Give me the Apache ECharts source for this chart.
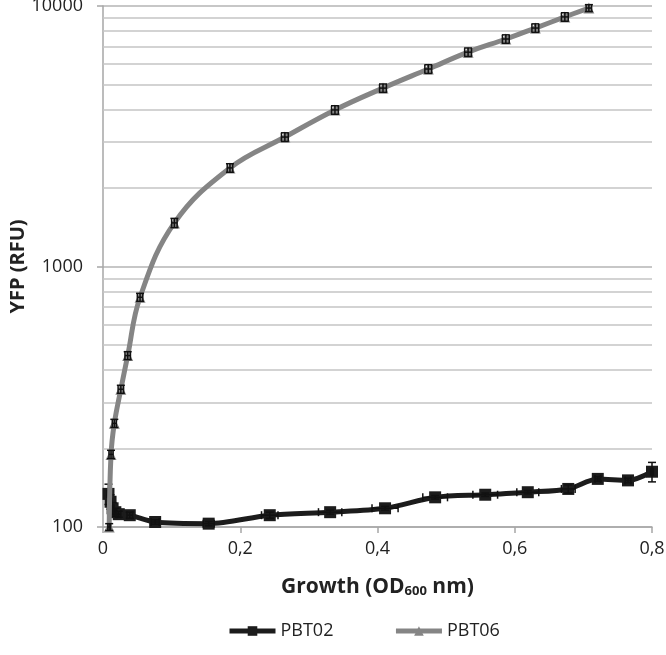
<!DOCTYPE html>
<html><head><meta charset="utf-8">
<script src="https://cdn.jsdelivr.net/npm/echarts@6/dist/echarts.min.js"></script>
<style>html,body{margin:0;padding:0;background:#fff}#c{width:666px;height:655px}</style>
</head><body><div id="c"></div>
<script>
// PBT02 (black, squares)
const pbt02X    = [0.008, 0.011, 0.014, 0.018, 0.023, 0.039, 0.076, 0.154, 0.243, 0.331, 0.411, 0.484, 0.557, 0.619, 0.678, 0.721, 0.765, 0.800];
const pbt02Y    = [134, 125, 118, 114, 112, 111, 104.5, 103, 111, 114, 118, 130, 133, 136, 140, 153, 151, 163];
const pbt02YErr = [12, 8, 6, 4, 3, 3, 2, 2, 3, 2, 2, 2, 2, 2, 5, 3, 3, 14];
const pbt02XErr = [0.002, 0.002, 0.002, 0.002, 0.003, 0.004, 0.006, 0.008, 0.012, 0.017, 0.019, 0.018, 0.018, 0.016, 0.010, 0.004, 0.004, 0.002];
// PBT06 (grey, triangles)
const pbt06X    = [0.009, 0.0117, 0.0165, 0.026, 0.036, 0.054, 0.104, 0.185, 0.265, 0.338, 0.408, 0.474, 0.532, 0.587, 0.630, 0.673, 0.708];
const pbt06Y    = [100, 190, 250, 338, 455, 762, 1470, 2390, 3140, 3990, 4840, 5730, 6650, 7470, 8230, 9080, 9820];
const pbt06YErr = [3, 7, 9, 12, 16, 27, 60, 90, 120, 150, 180, 220, 250, 280, 310, 340, 300];
const pbt06XErr = [0.002, 0.003, 0.003, 0.004, 0.004, 0.004, 0.004, 0.004, 0.005, 0.005, 0.005, 0.005, 0.005, 0.005, 0.005, 0.005, 0.004];
// axis ticks / minor grid values
const xTickLabels = ['0', '0,2', '0,4', '0,6', '0,8'];
const minorGrid = [200, 300, 400, 500, 600, 700, 800, 900, 2000, 3000, 4000, 5000, 6000, 7000, 8000, 9000];

const FONT = 'Open Sans';
function pairs(xs, ys) { return xs.map((x, i) => [x, ys[i]]); }
function errData(xs, ys, xe, ye) { return xs.map((x, i) => [x, ys[i], xe[i], ye[i]]); }

function renderErr(params, api) {
  const x = api.value(0), y = api.value(1), dx = api.value(2), dy = api.value(3);
  const top = api.coord([x, y + dy]), bot = api.coord([x, y - dy]);
  const l = api.coord([x - dx, y]), r = api.coord([x + dx, y]);
  const cap = 4;
  const st = { stroke: '#111', lineWidth: 1.5 };
  const line = (x1, y1, x2, y2) => ({ type: 'line', shape: { x1, y1, x2, y2 }, style: st });
  return {
    type: 'group',
    children: [
      line(top[0], top[1], bot[0], bot[1]),
      line(top[0] - cap, top[1], top[0] + cap, top[1]),
      line(bot[0] - cap, bot[1], bot[0] + cap, bot[1]),
      line(l[0], l[1], r[0], r[1]),
      line(l[0], l[1] - cap, l[0], l[1] + cap),
      line(r[0], r[1] - cap, r[0], r[1] + cap)
    ]
  };
}

const chart = echarts.init(document.getElementById('c'), null, { renderer: 'canvas' });
chart.setOption({
  animation: false,
  backgroundColor: '#fff',
  textStyle: { fontFamily: FONT },
  grid: { left: 103, right: 14, top: 6, bottom: 128, containLabel: false, outerBoundsMode: 'none' },
  legend: {
    data: ['PBT02', 'PBT06'],
    bottom: 10,
    left: 222,
    itemGap: 60,
    itemWidth: 46,
    itemHeight: 12,
    lineStyle: { width: 5 },
    textStyle: { fontFamily: FONT, fontSize: 18, color: '#222' }
  },
  xAxis: {
    type: 'value',
    min: 0, max: 0.8, interval: 0.2,
    name: 'Growth (OD{s|600} nm)',
    nameLocation: 'middle',
    nameGap: 50,
    nameMoveOverlap: false,
    nameTextStyle: {
      fontFamily: FONT, fontSize: 21, fontWeight: 'bold', color: '#222',
      rich: { s: { fontFamily: FONT, fontSize: 13, color: '#222', padding: [7, 0, 0, 0] } }
    },
    axisLine: { show: true, lineStyle: { color: '#a6a6a6', width: 1.5 } },
    axisTick: { show: true, length: 6, lineStyle: { color: '#a6a6a6', width: 1.5 } },
    axisLabel: {
      margin: 13, fontSize: 18, color: '#222', fontFamily: FONT,
      formatter: (v) => xTickLabels[Math.round(v / 0.2)]
    },
    splitLine: { show: false }
  },
  yAxis: {
    type: 'log',
    logBase: 10,
    min: 100, max: 10000,
    name: 'YFP (RFU)',
    nameLocation: 'middle',
    nameGap: 75,
    nameMoveOverlap: false,
    nameTextStyle: { fontFamily: FONT, fontSize: 20, fontWeight: 'bold', color: '#222' },
    axisLine: { show: true, lineStyle: { color: '#a6a6a6', width: 1.5 } },
    axisTick: { show: true, inside: false, length: 6, lineStyle: { color: '#a6a6a6', width: 1.5 } },
    axisLabel: { margin: 20, fontSize: 18, color: '#222', fontFamily: FONT, formatter: (v) => String(Math.round(v)) },
    splitLine: { show: true, lineStyle: { color: '#b5b5b5', width: 1.5 } }
  },
  series: [
    {
      name: 'grid', type: 'line', data: [], silent: true, z: 1,
      markLine: {
        silent: true, symbol: ['none', 'none'], label: { show: false },
        lineStyle: { color: '#c4c4c4', width: 1.5, type: 'solid' },
        emphasis: { disabled: true },
        data: minorGrid.map(v => ({ yAxis: v }))
      }
    },
    {
      name: 'PBT02', type: 'line', data: pairs(pbt02X, pbt02Y), smooth: 0.3,
      symbol: 'rect', symbolSize: 12, z: 3,
      lineStyle: { color: '#1c1c1c', width: 5 },
      itemStyle: { color: '#1c1c1c' }
    },
    {
      name: 'errPBT02', type: 'custom', renderItem: renderErr, z: 4,
      data: errData(pbt02X, pbt02Y, pbt02XErr, pbt02YErr), encode: { x: 0, y: 1 }, silent: true
    },
    {
      name: 'PBT06', type: 'line', data: pairs(pbt06X, pbt06Y), smooth: 0.4,
      symbol: 'triangle', symbolSize: 11, z: 5,
      lineStyle: { color: '#858585', width: 5 },
      itemStyle: { color: '#858585' }
    },
    {
      name: 'errPBT06', type: 'custom', renderItem: renderErr, z: 6,
      data: errData(pbt06X, pbt06Y, pbt06XErr, pbt06YErr), encode: { x: 0, y: 1 }, silent: true
    }
  ]
});
</script>
</body></html>
